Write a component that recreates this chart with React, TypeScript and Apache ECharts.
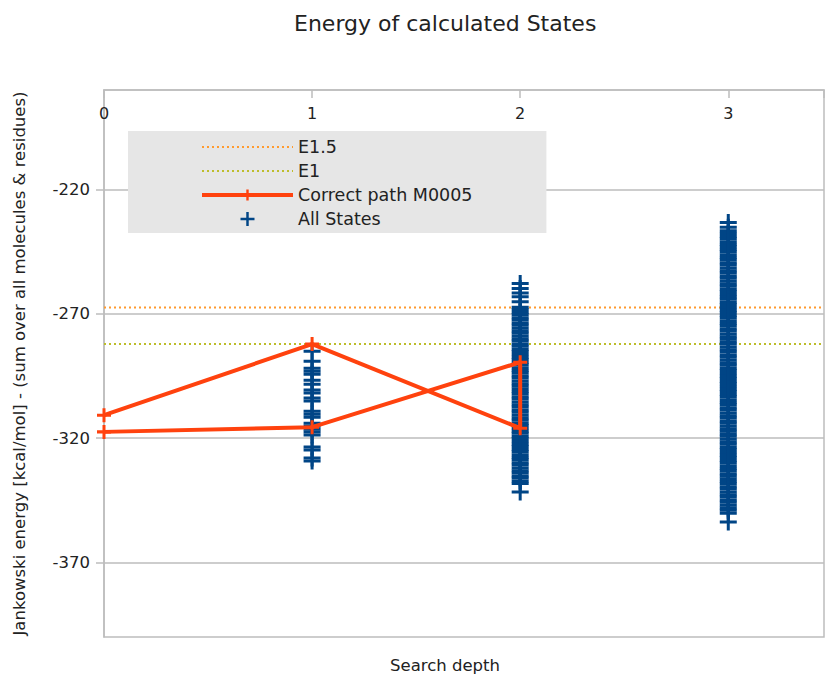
import React, { useEffect, useRef } from "react";
import * as echarts from "echarts";

// ---- data ----
const xTickLabels = [0, 1, 2, 3];
const yTickValues = [-370, -320, -270, -220];

const E15 = -267.5;
const E1 = -282.2;

const pathDepth = [0, 1, 2, 2, 1, 0];
const pathEnergy = [-310.8, -282.2, -316.0, -289.5, -315.6, -317.5];

const statesDepth1 = [
  -285.1, -289.1, -291.9, -293.1, -294.3, -296.7, -298.3, -300.7, -301.9, -303.9,
  -305.1, -309.2, -310.4, -311.6, -314.0, -315.2, -316.4, -317.6, -318.8, -323.6,
  -324.8, -328.0, -329.2,
];

const statesDepth2 = [
  -257.8, -259.8, -261.6, -263.2, -265.2,
  -267.4, -268.3, -269.5, -270.4, -271.6, -272.5, -273.7, -274.6, -275.8, -276.9,
  -277.8, -279.0, -280.1, -281.0, -282.2, -283.1, -284.3, -285.2, -286.4, -287.5,
  -288.4, -289.6, -290.5, -291.7, -292.8, -293.7, -294.9, -295.8, -297.0, -298.1,
  -299.0, -300.2, -301.3, -302.2, -303.4, -304.3, -305.5, -306.6, -307.5, -308.7,
  -309.6, -310.8, -311.9, -312.8, -314.0, -314.9, -316.1, -317.2, -318.1, -319.3,
  -320.2, -321.4, -322.5, -323.4, -324.6, -325.5, -326.7, -327.8, -328.7, -329.9,
  -330.8, -332.0, -333.1, -334.0, -335.2, -336.1, -337.3, -338.3,
  -341.7,
];

const statesDepth3 = [
  -233.3, -235.2, -236.6, -237.7, -238.9, -239.8, -241.0, -242.1, -243.0, -244.2,
  -245.1, -246.3, -247.4, -248.3, -249.5, -250.4, -251.6, -252.7, -253.6, -254.8,
  -255.7, -256.9, -258.0, -258.9, -260.1, -261.0, -262.2, -263.3, -264.2, -265.4,
  -266.3, -267.5, -268.6, -269.5, -270.7, -271.6, -272.8, -273.9, -274.8, -276.0,
  -276.9, -278.1, -279.2, -280.1, -281.3, -282.2, -283.4, -284.5, -285.4, -286.6,
  -287.5, -288.7, -289.8, -290.7, -291.9, -292.8, -294.0, -295.1, -296.0, -297.2,
  -298.1, -299.3, -300.4, -301.3, -302.5, -303.4, -304.6, -305.7, -306.6, -307.8,
  -308.7, -309.9, -311.0, -311.9, -313.1, -314.0, -315.2, -316.3, -317.2, -318.4,
  -319.3, -320.5, -321.6, -322.5, -323.7, -324.6, -325.8, -326.9, -327.8, -329.0,
  -329.9, -331.1, -332.2, -333.1, -334.3, -335.2, -336.4, -337.5, -338.4, -339.6,
  -340.5, -341.7, -342.8, -343.7, -344.9, -345.8, -347.0, -348.1, -349.0, -350.2,
  -353.7,
];

const X_MIN = 0;
const X_MAX = 3.46;
const Y_MIN = -400;
const Y_MAX = -180;

const FONT = "DejaVu Sans";
const PLUS_BLUE = "path://M0,7L17,7L17,10L0,10Z M7,0L10,0L10,17L7,17Z";
const PLUS_RED = "path://M0,5.5L14,5.5L14,8.5L0,8.5Z M5.5,0L8.5,0L8.5,14L5.5,14Z";

export default function App() {
  const ref = useRef<HTMLDivElement | null>(null);

  useEffect(() => {
    if (!ref.current) return;
    const chart = echarts.init(ref.current, null, { renderer: "svg" });

    const allStates: number[][] = [
      ...statesDepth1.map((v) => [1, v]),
      ...statesDepth2.map((v) => [2, v]),
      ...statesDepth3.map((v) => [3, v]),
    ];
    const pathData = pathDepth.map((d, i) => [d, pathEnergy[i]]);

    chart.setOption({
      animation: false,
      backgroundColor: "#ffffff",
      title: {
        text: "Energy of calculated States",
        left: 294,
        top: 12,
        padding: 0,
        textStyle: { fontFamily: FONT, fontSize: 22, fontWeight: "normal", color: "#222" },
      },
      graphic: [
        {
          type: "text",
          x: 445,
          y: 665,
          style: {
            text: "Search depth",
            fontFamily: FONT,
            fontSize: 16.5,
            fill: "#222",
            align: "center",
            verticalAlign: "middle",
          },
        },
      ],
      legend: {
        orient: "vertical",
        left: 128,
        top: 131,
        backgroundColor: "#e6e6e6",
        padding: [7, 74, 5, 72],
        itemWidth: 91,
        itemHeight: 14,
        itemGap: 6,
        textStyle: { fontFamily: FONT, fontSize: 17.5, color: "#222" },
        data: [
          { name: "E1.5", itemStyle: { opacity: 0 } },
          { name: "E1", itemStyle: { opacity: 0 } },
          { name: "Correct path M0005", lineStyle: { width: 4 } },
          { name: "All States" },
        ],
      },
      grid: {
        left: 104,
        top: 90,
        bottom: 38,
        right: -2,
        show: true,
        borderColor: "#bdbdbd",
        borderWidth: 1.5,
        backgroundColor: "transparent",
      },
      xAxis: {
        type: "value",
        position: "top",
        min: X_MIN,
        max: X_MAX,
        interval: 1,
        axisLine: { show: true, lineStyle: { color: "#bdbdbd", width: 1.5 } },
        axisTick: { show: true, inside: true, length: 8, lineStyle: { color: "#bdbdbd", width: 1.5 } },
        axisLabel: {
          inside: true,
          margin: 15,
          fontFamily: FONT,
          fontSize: 16,
          color: "#222",
          formatter: (v: number) => (xTickLabels.includes(v) ? String(v) : ""),
        },
        splitLine: { show: false },
      },
      yAxis: {
        type: "value",
        min: Y_MIN,
        max: Y_MAX,
        name: "Jankowski energy [kcal/mol] - (sum over all molecules & residues)",
        nameLocation: "middle",
        nameGap: 76,
        nameTextStyle: { fontFamily: FONT, fontSize: 16.5, color: "#222" },
        axisLine: { show: true, lineStyle: { color: "#bdbdbd", width: 1.5 } },
        axisTick: {
          show: true,
          length: 8,
          customValues: yTickValues,
          lineStyle: { color: "#bdbdbd", width: 1.5 },
        },
        axisLabel: {
          margin: 14,
          fontFamily: FONT,
          fontSize: 16.5,
          color: "#222",
          customValues: yTickValues,
        },
        splitLine: { show: true, lineStyle: { color: "#bdbdbd", width: 1.5 } },
      },
      series: [
        {
          name: "E1.5",
          type: "line",
          data: [[X_MIN, E15], [X_MAX, E15]],
          symbol: "none",
          color: "#ff9a2e",
          lineStyle: { color: "#ff9a2e", width: 2, type: [2, 3] },
          z: 3,
        },
        {
          name: "E1",
          type: "line",
          data: [[X_MIN, E1], [X_MAX, E1]],
          symbol: "none",
          color: "#bdbd2a",
          lineStyle: { color: "#bdbd2a", width: 2, type: [2, 3] },
          z: 3,
        },
        {
          name: "All States",
          type: "scatter",
          data: allStates,
          symbol: PLUS_BLUE,
          symbolSize: 17,
          color: "#004586",
          itemStyle: { color: "#004586", opacity: 1 },
          z: 4,
        },
        {
          name: "Correct path M0005",
          type: "line",
          data: pathData,
          symbol: PLUS_RED,
          symbolSize: 14,
          showAllSymbol: true,
          color: "#ff420e",
          itemStyle: { color: "#ff420e" },
          lineStyle: { color: "#ff420e", width: 4 },
          z: 5,
        },
      ],
    });

    return () => {
      chart.dispose();
    };
  }, []);

  return (
    <div
      ref={ref}
      style={{ position: "absolute", left: 0, top: 0, width: 827, height: 675 }}
    />
  );
}
